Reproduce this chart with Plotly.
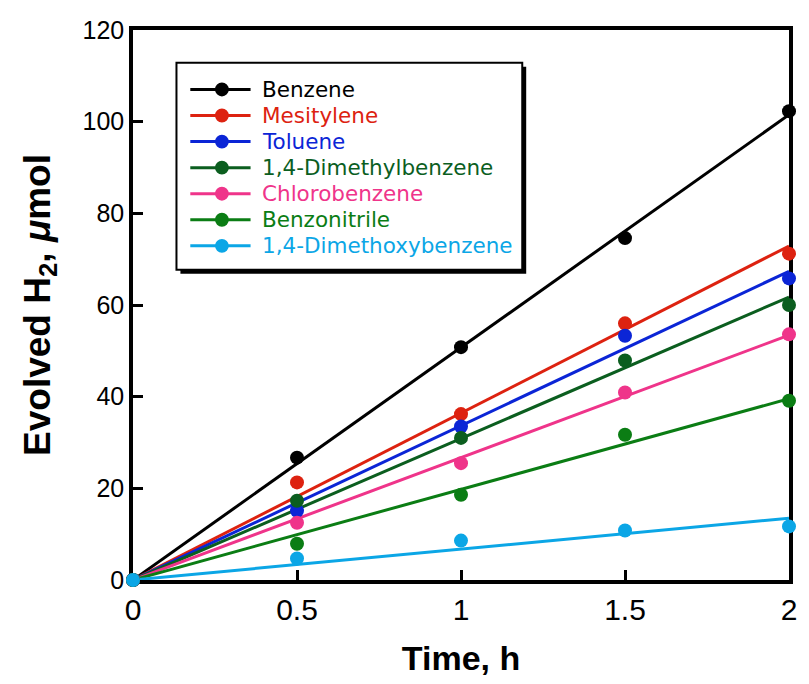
import numpy as np
import plotly.graph_objects as go

time_h = [0, 0.5, 1.0, 1.5, 2.0]
series_names = ["Benzene", "Mesitylene", "Toluene", "1,4-Dimethylbenzene",
                "Chlorobenzene", "Benzonitrile", "1,4-Dimethoxybenzene"]
benzene = [0, 26.7, 50.8, 74.6, 102.3]
mesitylene = [0, 21.3, 36.2, 56.0, 71.2]
toluene = [0, 15.1, 33.5, 53.3, 65.8]
dimethylbenzene = [0, 17.3, 31.0, 47.9, 60.0]
chlorobenzene = [0, 12.5, 25.5, 40.9, 53.6]
benzonitrile = [0, 7.9, 18.6, 31.7, 39.1]
dimethoxybenzene = [0, 4.7, 8.6, 10.8, 11.7]
colors = ["#000000", "#dd2210", "#0b25d6", "#0b5e1f", "#ef348a", "#0b7d14", "#0ba6e6"]

all_series = [benzene, mesitylene, toluene, dimethylbenzene,
              chlorobenzene, benzonitrile, dimethoxybenzene]

x_ticks = [0, 0.5, 1, 1.5, 2]
x_tick_text = ["0", "0.5", "1", "1.5", "2"]
y_ticks = [0, 20, 40, 60, 80, 100, 120]

# layout geometry (pixels)
W, H = 809, 684
ML, MR, MT, MB = 133, 12, 30, 99
PW, PH = W - ML - MR, H - MT - MB


def px(xp):
    return (xp - ML) / PW


def py(yp):
    return (H - MB - yp) / PH


fig = go.Figure()
x = np.array(time_h)
xfit = np.array([0, 2.0])
for name, ys, c in zip(series_names, all_series, colors):
    y = np.array(ys)
    slope = float((x * y).sum() / (x * x).sum())
    fig.add_trace(go.Scatter(x=xfit, y=slope * xfit, mode="lines",
                             line=dict(color=c, width=3), showlegend=False,
                             hoverinfo="skip", cliponaxis=False))
for name, ys, c in zip(series_names, all_series, colors):
    fig.add_trace(go.Scatter(x=time_h, y=ys, mode="markers", name=name,
                             marker=dict(color=c, size=14),
                             showlegend=False, cliponaxis=False))

# hand-drawn legend box with drop shadow
box_l, box_r, box_t, box_b = 177, 527, 63, 272
shadow = 4
fig.add_shape(type="rect", xref="paper", yref="paper",
              x0=px(box_l + shadow), x1=px(box_r + shadow),
              y0=py(box_b + shadow), y1=py(box_t + shadow),
              fillcolor="black", line=dict(width=0), layer="above")
fig.add_shape(type="rect", xref="paper", yref="paper",
              x0=px(box_l), x1=px(box_r), y0=py(box_b), y1=py(box_t),
              fillcolor="white", line=dict(color="black", width=2), layer="above")
row0, row_gap = 90, 26.3
line_l, line_r, mark_x, text_x = 191, 252, 223, 262
r = 7
for i, (name, c) in enumerate(zip(series_names, colors)):
    yy = row0 + i * row_gap
    fig.add_shape(type="line", xref="paper", yref="paper",
                  x0=px(line_l), x1=px(line_r), y0=py(yy), y1=py(yy),
                  line=dict(color=c, width=3), layer="above")
    fig.add_shape(type="circle", xref="paper", yref="paper",
                  x0=px(mark_x - r), x1=px(mark_x + r), y0=py(yy + r), y1=py(yy - r),
                  fillcolor=c, line=dict(width=0), layer="above")
    fig.add_annotation(xref="paper", yref="paper", x=px(text_x), y=py(yy),
                       xanchor="left", yanchor="middle", text=name, showarrow=False,
                       font=dict(family="DejaVu Sans", size=21.5, color=c))

fig.update_layout(
    width=W, height=H,
    margin=dict(l=ML, r=MR, t=MT, b=MB),
    paper_bgcolor="white", plot_bgcolor="white",
    font=dict(family="Liberation Sans", color="black"),
    showlegend=False,
    xaxis=dict(range=[0, 2], tickvals=x_ticks, ticktext=x_tick_text,
               showgrid=False, zeroline=False, showline=True, linecolor="black",
               linewidth=3.5, mirror=True, ticks="inside", ticklen=10, tickwidth=3,
               tickcolor="black", layer="below traces",
               tickfont=dict(size=30, family="Liberation Sans"),
               title=dict(text="<b>Time, h</b>", standoff=22,
                          font=dict(size=34, family="Liberation Sans"))),
    yaxis=dict(range=[0, 120], tickvals=y_ticks,
               showgrid=False, zeroline=False, showline=True, linecolor="black",
               linewidth=3.5, mirror=True, ticks="inside", ticklen=10, tickwidth=3,
               tickcolor="black", layer="below traces",
               tickfont=dict(size=25, family="Liberation Sans"),
               title=dict(text="<b>Evolved H<sub>2</sub>, <i>μ</i>mol</b>", standoff=22,
                          font=dict(size=37, family="Liberation Sans"))),
)

fig.write_html("out.html")
